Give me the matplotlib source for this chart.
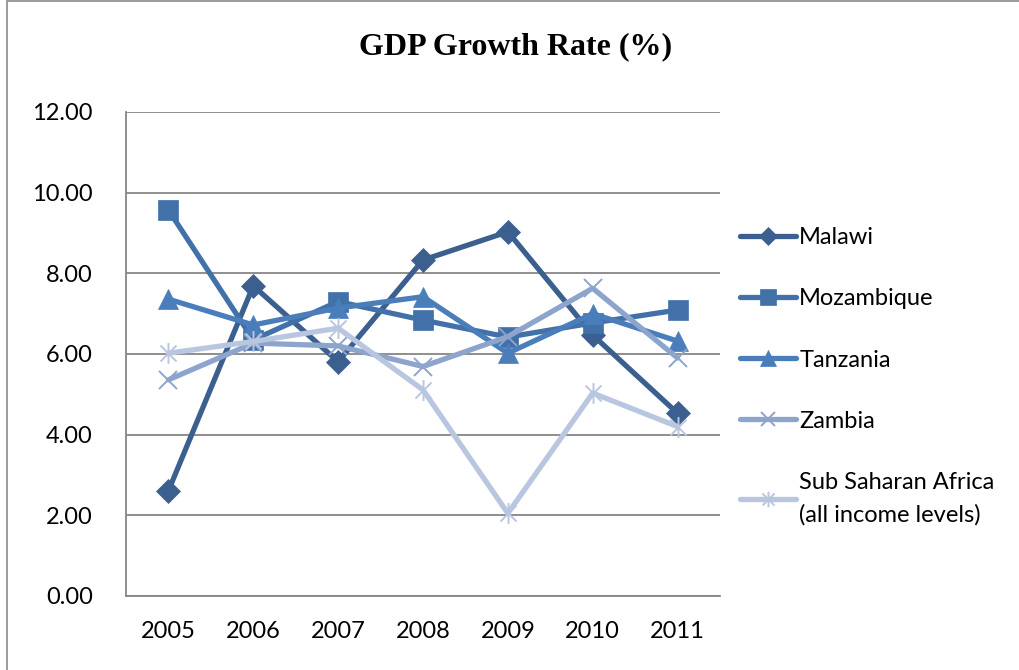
import numpy as np
import matplotlib.pyplot as plt
from matplotlib.path import Path
from matplotlib.patches import Rectangle

years = ["2005", "2006", "2007", "2008", "2009", "2010", "2011"]
malawi = [2.61, 7.69, 5.81, 8.33, 9.03, 6.47, 4.53]
mozambique = [9.57, 6.35, 7.30, 6.84, 6.42, 6.77, 7.09]
tanzania = [7.36, 6.72, 7.14, 7.42, 6.02, 7.00, 6.32]
zambia = [5.36, 6.27, 6.20, 5.69, 6.43, 7.63, 5.90]
ssa = [6.02, 6.31, 6.64, 5.11, 2.05, 5.03, 4.20]

labels = ["Malawi", "Mozambique", "Tanzania", "Zambia",
          "Sub Saharan Africa\n(all income levels)"]
colors = ["#3B5F8E", "#4270A8", "#4A7EBB", "#8DA4CC", "#B9C6E0"]

# excel-style star: an x with a vertical bar through it
star = Path([(-1, -1), (1, 1), (-1, 1), (1, -1), (0, -1.3), (0, 1.3)],
            [Path.MOVETO, Path.LINETO, Path.MOVETO, Path.LINETO, Path.MOVETO, Path.LINETO])
markers = ["D", "s", "^", "x", star]
msizes = [12, 15, 15, 13, 15]

plt.rcParams["font.family"] = ["Lato", "DejaVu Sans"]

fig = plt.figure(figsize=(10.19, 6.70), dpi=100)
ax = fig.add_axes([126 / 1019, 1 - 596 / 670, 594 / 1019, 484 / 670])

x = np.arange(len(years))
series = [malawi, mozambique, tanzania, zambia, ssa]
for vals, lab, c, m, ms in zip(series, labels, colors, markers, msizes):
    filled = m in ("D", "s", "^")
    ax.plot(x, vals, color=c, lw=3.8, marker=m, ms=ms,
            mew=1.4 if not filled else 0.5, mec=c, mfc=c, label=lab,
            solid_capstyle="round", solid_joinstyle="round")

ax.set_xlim(-0.5, len(years) - 0.5)
ax.set_ylim(0, 12)
ax.set_xticks(x, years)
ax.set_yticks(np.arange(0, 12.01, 2))
ax.set_yticklabels([f"{v:.2f}" for v in np.arange(0, 12.01, 2)])
ax.tick_params(length=0, labelsize=17, pad=18)
ax.tick_params(axis="y", pad=24)
ax.grid(axis="y", color="#868686", lw=1.3)
ax.set_axisbelow(True)
for s in ["top", "right"]:
    ax.spines[s].set_visible(False)
for s in ["left", "bottom"]:
    ax.spines[s].set_color("#868686")
    ax.spines[s].set_linewidth(1.3)

fig.text(516 / 1019, 1 - 47 / 670, "GDP Growth Rate (%)", ha="center", va="center",
         fontsize=23, fontweight="bold", family="Liberation Serif")

leg = fig.legend(loc="upper left", bbox_to_anchor=(719 / 1019, 1 - 206 / 670), frameon=False,
                 fontsize=17, handlelength=2.35, handletextpad=0.15, labelspacing=1.7,
                 markerscale=0.75)
leg.get_texts()[-1].set_linespacing(1.65)

fig.patches.append(Rectangle((7 / 1019, -0.1), 1.2, 1.1 - 1 / 670, transform=fig.transFigure,
                             fill=False, ec="#8a8a8a", lw=1.2))

fig.savefig("out.png", dpi=100)
